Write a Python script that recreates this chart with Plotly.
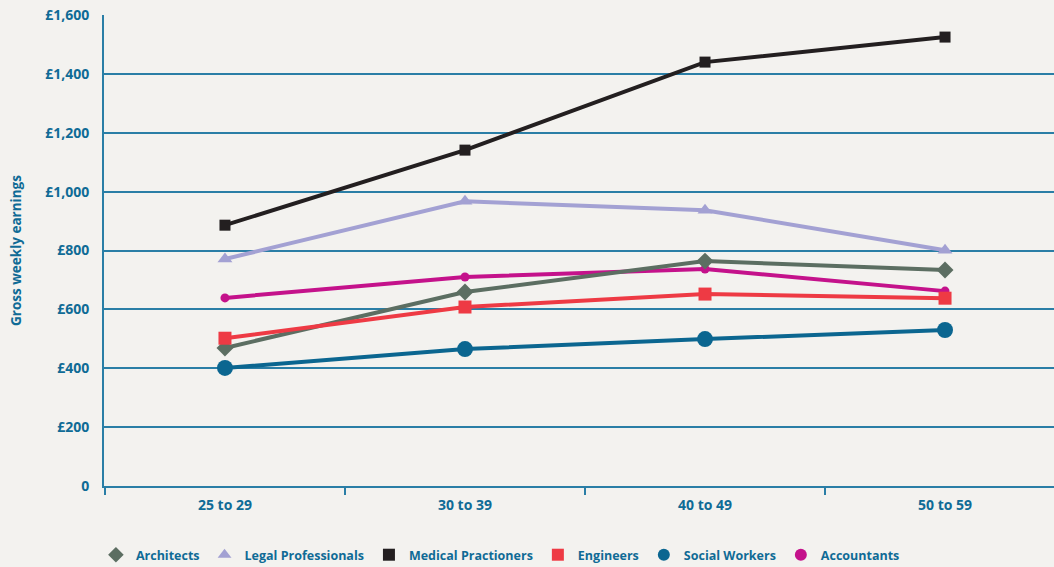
import plotly.graph_objects as go

age_bands = ["25 to 29", "30 to 39", "40 to 49", "50 to 59"]

architects = [469, 659, 764, 734]
legal_professionals = [771, 967, 937, 801]
medical_practioners = [886, 1141, 1440, 1525]
engineers = [502, 608, 652, 638]
social_workers = [401, 465, 499, 530]
accountants = [639, 710, 737, 662]

y_tick_values = [0, 200, 400, 600, 800, 1000, 1200, 1400, 1600]
y_tick_labels = ["0", "£200", "£400", "£600", "£800", "£1,000", "£1,200", "£1,400", "£1,600"]

TEXT = "#0f6b96"
GRID = "#2a7ea6"
BG = "#f3f2ef"
FONT = "Open Sans"

series = [
    ("Architects", architects, "#5c6e62", "diamond", 13, 11),
    ("Legal Professionals", legal_professionals, "#a3a1d3", "triangle-up", 13, 11),
    ("Medical Practioners", medical_practioners, "#231f20", "square", 11, 11),
    ("Engineers", engineers, "#ee3a44", "square", 13, 11),
    ("Social Workers", social_workers, "#0b6690", "circle", 16, 11),
    ("Accountants", accountants, "#c4128b", "circle", 9, 8),
]

# stacking order of the lines
draw_order = ["Legal Professionals", "Medical Practioners", "Accountants",
              "Architects", "Engineers", "Social Workers"]

fig = go.Figure()
lookup = {s[0]: s for s in series}
for name in draw_order:
    _, vals, color, symbol, size, _ = lookup[name]
    fig.add_trace(go.Scatter(
        x=age_bands, y=vals, mode="lines+markers", name=name,
        line=dict(color=color, width=4),
        marker=dict(symbol=symbol, size=size, color=color),
        showlegend=False, legendgroup=name, cliponaxis=False,
    ))

# legend entries show the marker only
for name, vals, color, symbol, size, legend_size in series:
    fig.add_trace(go.Scatter(
        x=[None], y=[None], mode="markers", name=name,
        marker=dict(symbol=symbol, size=legend_size, color=color),
        legendgroup=name, showlegend=True,
    ))

fig.update_layout(
    width=1054, height=567,
    paper_bgcolor=BG, plot_bgcolor=BG,
    margin=dict(l=104, r=0, t=15, b=81),
    font=dict(family=FONT, color=TEXT, size=13),
    xaxis=dict(
        type="category", categoryorder="array", categoryarray=age_bands,
        range=[-0.504, 3.454],
        showline=True, linecolor=GRID, linewidth=2,
        ticks="outside", tickson="boundaries", ticklen=7, tickwidth=1.5,
        tickcolor=GRID, showgrid=False, ticklabelstandoff=5,
        tickfont=dict(family=FONT, size=14, color=TEXT, weight="bold"),
    ),
    yaxis=dict(
        range=[0, 1600], tickvals=y_tick_values, ticktext=y_tick_labels,
        showline=True, linecolor=GRID, linewidth=2,
        showgrid=True, gridcolor=GRID, gridwidth=1.5, zeroline=False,
        ticks="", ticklabelstandoff=10,
        tickfont=dict(family=FONT, size=14, color=TEXT, weight="bold"),
        title=dict(text="Gross weekly earnings", standoff=20,
                   font=dict(family=FONT, size=13.5, color=TEXT, weight="bold")),
    ),
    legend=dict(
        orientation="h", xref="container", yref="container",
        x=0.091, xanchor="left", y=0.021, yanchor="middle",
        font=dict(family=FONT, size=12.5, color=TEXT, weight="bold"),
        bgcolor="rgba(0,0,0,0)", itemsizing="constant",
        tracegroupgap=0, itemwidth=30,
    ),
)

fig.write_html("out.html")
